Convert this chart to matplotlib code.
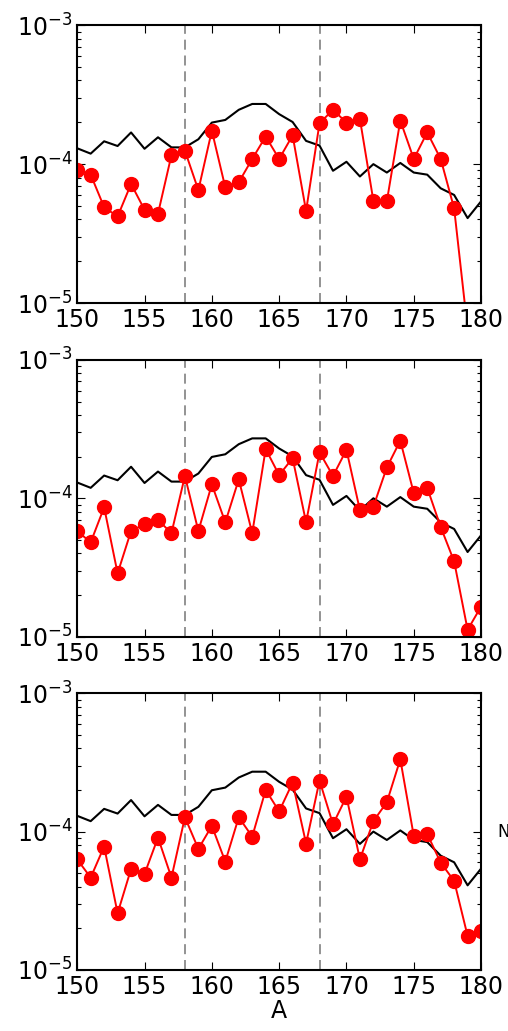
import numpy as np
import matplotlib
matplotlib.use('Agg')
import matplotlib.pyplot as plt

# Massas
A = np.arange(150, 181)

# Curva de referencia (preta), igual nos tres paineis
ref = [1.30e-4, 1.19e-4, 1.46e-4, 1.35e-4, 1.69e-4, 1.29e-4, 1.56e-4, 1.32e-4,
       1.32e-4, 1.51e-4, 1.99e-4, 2.08e-4, 2.46e-4, 2.71e-4, 2.71e-4, 2.29e-4,
       2.01e-4, 1.47e-4, 1.36e-4, 8.96e-5, 1.04e-4, 8.15e-5, 1.00e-4, 8.70e-5,
       1.02e-4, 8.70e-5, 8.40e-5, 6.70e-5, 6.00e-5, 4.09e-5, 5.40e-5]

# Dados (vermelho) por painel
dados1 = [9.1e-5, 8.4e-5, 4.9e-5, 4.2e-5, 7.2e-5, 4.7e-5, 4.4e-5, 1.16e-4,
          1.25e-4, 6.5e-5, 1.74e-4, 6.8e-5, 7.4e-5, 1.09e-4, 1.58e-4, 1.09e-4,
          1.61e-4, 4.6e-5, 1.97e-4, 2.46e-4, 1.99e-4, 2.11e-4, 5.45e-5, 5.4e-5,
          2.06e-4, 1.09e-4, 1.69e-4, 1.09e-4, 4.8e-5, 6.5e-6, 5.0e-6]
dados2 = [5.8e-5, 4.8e-5, 8.6e-5, 2.87e-5, 5.8e-5, 6.5e-5, 6.97e-5, 5.6e-5,
          1.45e-4, 5.8e-5, 1.26e-4, 6.7e-5, 1.37e-4, 5.6e-5, 2.27e-4, 1.47e-4,
          1.95e-4, 6.7e-5, 2.15e-4, 1.45e-4, 2.24e-4, 8.2e-5, 8.7e-5, 1.67e-4,
          2.61e-4, 1.09e-4, 1.19e-4, 6.2e-5, 3.5e-5, 1.12e-5, 1.65e-5]
dados3 = [6.3e-5, 4.65e-5, 7.8e-5, 2.57e-5, 5.37e-5, 4.94e-5, 9.05e-5, 4.65e-5,
          1.27e-4, 7.5e-5, 1.10e-4, 6.07e-5, 1.27e-4, 9.2e-5, 2.0e-4, 1.40e-4,
          2.26e-4, 8.2e-5, 2.34e-4, 1.13e-4, 1.79e-4, 6.3e-5, 1.19e-4, 1.63e-4,
          3.33e-4, 9.3e-5, 9.6e-5, 5.97e-5, 4.4e-5, 1.76e-5, 1.92e-5]

linhas_v = [158, 168]
xticks = [150, 155, 160, 165, 170, 175, 180]

fig = plt.figure(figsize=(5.08, 10.31), dpi=100)
posicoes = [[0.152, 0.706, 0.795, 0.2696],
            [0.152, 0.3825, 0.795, 0.2684],
            [0.152, 0.0592, 0.795, 0.2684]]

for pos, dados in zip(posicoes, [dados1, dados2, dados3]):
    ax = fig.add_axes(pos)
    ax.set_yscale('log')
    for xv in linhas_v:
        ax.axvline(xv, color='0.5', ls='--', lw=1.2, dashes=(6, 3.5))
    ax.plot(A, ref, color='k', lw=1.5)
    ax.plot(A, dados, color='r', lw=1.4, marker='o', markersize=10,
            markeredgecolor='r', clip_on=True)
    ax.set_xlim(150, 180)
    ax.set_ylim(1e-5, 1e-3)
    ax.set_xticks(xticks)
    ax.tick_params(which='both', direction='in', top=True, right=True)
    ax.tick_params(which='major', length=6, width=0.8, labelsize=17)
    ax.tick_params(which='minor', length=3, width=0.8)
    for s in ax.spines.values():
        s.set_linewidth(1.5)

ax.set_xlabel('A', fontsize=17, labelpad=0)
# rotulo de outro painel, cortado na borda direita
fig.text(0.980, 0.193, 'N', fontsize=12, va='center')

plt.savefig('out.png', dpi=100)
plt.close()
